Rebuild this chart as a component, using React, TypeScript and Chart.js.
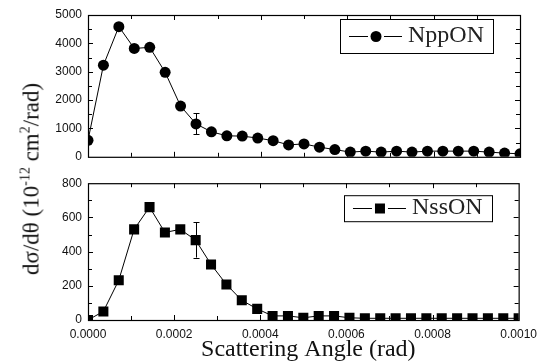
import React, { useEffect, useRef } from "react";
import { Chart, registerables } from "chart.js";

Chart.register(...registerables);

// ---------- data ----------
const angles = [
  0, 0.0000357, 0.0000714, 0.0001071, 0.0001429, 0.0001786, 0.0002143, 0.00025,
  0.0002857, 0.0003214, 0.0003571, 0.0003929, 0.0004286, 0.0004643, 0.0005,
  0.0005357, 0.0005714, 0.0006071, 0.0006429, 0.0006786, 0.0007143, 0.00075,
  0.0007857, 0.0008214, 0.0008571, 0.0008929, 0.0009286, 0.0009643, 0.001,
];
const nppON = [
  580, 3230, 4590, 3820, 3860, 2980, 1790, 1160, 880, 740, 730, 660, 570, 420,
  455, 340, 255, 165, 200, 165, 200, 165, 200, 200, 200, 200, 165, 130, 105,
];
const nssON = [
  0, 50, 232, 530, 660, 512, 530, 467, 325, 208, 115, 65, 24, 24, 13, 24, 24,
  13, 10, 10, 10, 10, 10, 10, 10, 10, 10, 10, 10,
];
const nppErrIndex = [7];
const nppErrLow = [800];
const nppErrHigh = [1540];
const nssErrIndex = [7];
const nssErrLow = [365];
const nssErrHigh = [572];

const xTickValues = [0, 0.0002, 0.0004, 0.0006, 0.0008, 0.001];
const nppYTicks = [0, 1000, 2000, 3000, 4000, 5000];
const nssYTicks = [0, 200, 400, 600, 800];

const xTitle = "Scattering Angle (rad)";

// ---------- styling ----------
const SERIF = '"Liberation Serif", "Times New Roman", serif';
const SANS = '"Liberation Sans", Arial, sans-serif';
const TICK_FONT = { family: SANS, size: 12 };

type PanelCfg = {
  xMinor: number;
  xMajor: number;
  yMinor: number;
  yMajor: number;
  errIndex: number[];
  errLow: number[];
  errHigh: number[];
  legendLabel: string;
  legendStyle: "circle" | "rect";
  legendTop: number;
  legendHeight: number;
  drawXTitle: boolean;
};

function panelPlugin(cfg: PanelCfg) {
  return {
    id: "panelDecor",
    afterDatasetsDraw(chart: any) {
      const { ctx, chartArea } = chart;
      const { left, right, top, bottom } = chartArea;
      const xs = chart.scales.x;
      const ys = chart.scales.y;
      ctx.save();
      ctx.strokeStyle = "#000";
      ctx.fillStyle = "#000";
      ctx.lineWidth = 1;

      // error bars
      cfg.errIndex.forEach((idx, k) => {
        const px = Math.round(xs.getPixelForValue(angles[idx])) + 0.5;
        const y1 = ys.getPixelForValue(cfg.errLow[k]);
        const y2 = ys.getPixelForValue(cfg.errHigh[k]);
        ctx.beginPath();
        ctx.moveTo(px, y1);
        ctx.lineTo(px, y2);
        ctx.moveTo(px - 3, Math.round(y1) + 0.5);
        ctx.lineTo(px + 3, Math.round(y1) + 0.5);
        ctx.moveTo(px - 3, Math.round(y2) + 0.5);
        ctx.lineTo(px + 3, Math.round(y2) + 0.5);
        ctx.stroke();
      });

      // frame
      ctx.lineWidth = 1.2;
      ctx.strokeRect(left + 0.5, top + 0.5, right - left, bottom - top);

      // inward ticks
      ctx.lineWidth = 1;
      ctx.beginPath();
      const nx = Math.round((xs.max - xs.min) / cfg.xMinor);
      const xr = Math.round(cfg.xMajor / cfg.xMinor);
      for (let k = 1; k < nx; k++) {
        const v = xs.min + k * cfg.xMinor;
        const px = Math.round(xs.getPixelForValue(v)) + 0.5;
        const len = k % xr === 0 ? 5 : 4;
        ctx.moveTo(px, bottom);
        ctx.lineTo(px, bottom - len);
        ctx.moveTo(px, top);
        ctx.lineTo(px, top + len);
      }
      const ny = Math.round((ys.max - ys.min) / cfg.yMinor);
      const yr = Math.round(cfg.yMajor / cfg.yMinor);
      for (let k = 1; k < ny; k++) {
        const v = ys.min + k * cfg.yMinor;
        const py = Math.round(ys.getPixelForValue(v)) + 0.5;
        const len = k % yr === 0 ? 5 : 4;
        ctx.moveTo(left, py);
        ctx.lineTo(left + len, py);
        ctx.moveTo(right, py);
        ctx.lineTo(right - len, py);
      }
      ctx.stroke();

      // legend
      ctx.font = `24px ${SERIF}`;
      const tw = ctx.measureText(cfg.legendLabel).width;
      const bw = tw + 68 + 9;
      const bx = right - 27 - bw;
      const by = top + cfg.legendTop;
      const bh = cfg.legendHeight;
      ctx.fillStyle = "#fff";
      ctx.fillRect(bx, by, bw, bh);
      ctx.strokeStyle = "#000";
      ctx.lineWidth = 1;
      ctx.strokeRect(Math.round(bx) + 0.5, by + 0.5, Math.round(bw), bh);
      const cy = Math.round(by + bh / 2) + 0.5;
      ctx.beginPath();
      ctx.moveTo(bx + 9, cy);
      ctx.lineTo(bx + 28, cy);
      ctx.moveTo(bx + 44, cy);
      ctx.lineTo(bx + 62, cy);
      ctx.stroke();
      ctx.fillStyle = "#000";
      if (cfg.legendStyle === "circle") {
        ctx.beginPath();
        ctx.arc(bx + 36, cy, 5.5, 0, Math.PI * 2);
        ctx.fill();
      } else {
        ctx.fillRect(bx + 31, cy - 5, 10, 10);
      }
      ctx.textAlign = "left";
      ctx.textBaseline = "middle";
      ctx.fillStyle = "#222";
      ctx.fillText(cfg.legendLabel, bx + 68, cy - 1);

      // x title
      if (cfg.drawXTitle) {
        ctx.font = `24px ${SERIF}`;
        ctx.textAlign = "center";
        ctx.textBaseline = "alphabetic";
        ctx.fillStyle = "#111";
        ctx.fillText(xTitle, (left + right) / 2 + 5, chart.height - 7);
      }
      ctx.restore();
    },
  };
}

function makeConfig(
  values: number[],
  label: string,
  pointStyle: string,
  pointRadius: number,
  yMax: number,
  yTicks: number[],
  showXLabels: boolean,
  paddingTop: number,
  xHeight: number,
  cfg: PanelCfg
): any {
  return {
    type: "line",
    data: {
      datasets: [
        {
          label,
          data: angles.map((x, i) => ({ x, y: values[i] })),
          borderColor: "#000",
          backgroundColor: "#000",
          borderWidth: 1,
          pointStyle,
          pointRadius,
          pointBorderWidth: 0,
          pointBackgroundColor: "#000",
          tension: 0,
          clip: 0,
        },
      ],
    },
    options: {
      responsive: false,
      maintainAspectRatio: false,
      animation: false,
      events: [],
      layout: { padding: { left: 0, right: 24, top: paddingTop, bottom: 0 } },
      plugins: {
        legend: { display: false },
        tooltip: { enabled: false },
        title: { display: false },
      },
      scales: {
        x: {
          type: "linear",
          min: 0,
          max: 0.001,
          grid: { display: false, drawTicks: false },
          border: { display: false },
          ticks: {
            display: showXLabels,
            font: TICK_FONT,
            color: "#111",
            padding: 7,
            maxRotation: 0,
            autoSkip: false,
            callback: (v: any) => Number(v).toFixed(4),
          },
          afterBuildTicks: (s: any) => {
            s.ticks = xTickValues.map((v) => ({ value: v }));
          },
          afterFit: (s: any) => {
            s.height = xHeight;
          },
        },
        y: {
          type: "linear",
          min: 0,
          max: yMax,
          grid: { display: false, drawTicks: false },
          border: { display: false },
          ticks: {
            font: TICK_FONT,
            color: "#111",
            padding: 6,
            autoSkip: false,
            callback: (v: any) => String(Math.round(Number(v))),
          },
          afterBuildTicks: (s: any) => {
            s.ticks = yTicks.map((v) => ({ value: v }));
          },
          afterFit: (s: any) => {
            s.width = 88;
          },
        },
      },
    },
    plugins: [panelPlugin(cfg)],
  };
}

export default function App() {
  const topRef = useRef<HTMLCanvasElement>(null);
  const botRef = useRef<HTMLCanvasElement>(null);

  useEffect(() => {
    const top = new Chart(
      topRef.current as HTMLCanvasElement,
      makeConfig(nppON, "NppON", "circle", 5.5, 5000, nppYTicks, false, 15, 12, {
        xMinor: 0.0001,
        xMajor: 0.0002,
        yMinor: 500,
        yMajor: 1000,
        errIndex: nppErrIndex,
        errLow: nppErrLow,
        errHigh: nppErrHigh,
        legendLabel: "NppON",
        legendStyle: "circle",
        legendTop: 4,
        legendHeight: 34,
        drawXTitle: false,
      })
    );
    const bot = new Chart(
      botRef.current as HTMLCanvasElement,
      makeConfig(nssON, "NssON", "rect", 7.1, 800, nssYTicks, true, 8, 43, {
        xMinor: 0.0001,
        xMajor: 0.0002,
        yMinor: 100,
        yMajor: 200,
        errIndex: nssErrIndex,
        errLow: nssErrLow,
        errHigh: nssErrHigh,
        legendLabel: "NssON",
        legendStyle: "rect",
        legendTop: 12,
        legendHeight: 26,
        drawXTitle: true,
      })
    );
    return () => {
      top.destroy();
      bot.destroy();
    };
  }, []);

  return (
    <div
      style={{
        position: "absolute",
        left: 0,
        top: 0,
        width: 544,
        height: 363,
        background: "#fff",
        overflow: "hidden",
      }}
    >
      <canvas
        ref={topRef}
        width={544}
        height={170}
        style={{ position: "absolute", left: 0, top: 0, width: 544, height: 170 }}
      />
      <canvas
        ref={botRef}
        width={544}
        height={193}
        style={{ position: "absolute", left: 0, top: 170, width: 544, height: 193 }}
      />
      <div
        style={{
          position: "absolute",
          left: 31,
          top: 179,
          transform: "translate(-50%, -50%) rotate(-90deg)",
          whiteSpace: "nowrap",
          fontFamily: SERIF,
          fontSize: 23,
          lineHeight: 1,
          color: "#111",
        }}
      >
        dσ/dθ (10
        <sup style={{ fontSize: 14, lineHeight: 0, verticalAlign: 9 }}>-12</sup>
        {" "}cm
        <sup style={{ fontSize: 14, lineHeight: 0, verticalAlign: 9 }}>2</sup>
        /rad)
      </div>
    </div>
  );
}
